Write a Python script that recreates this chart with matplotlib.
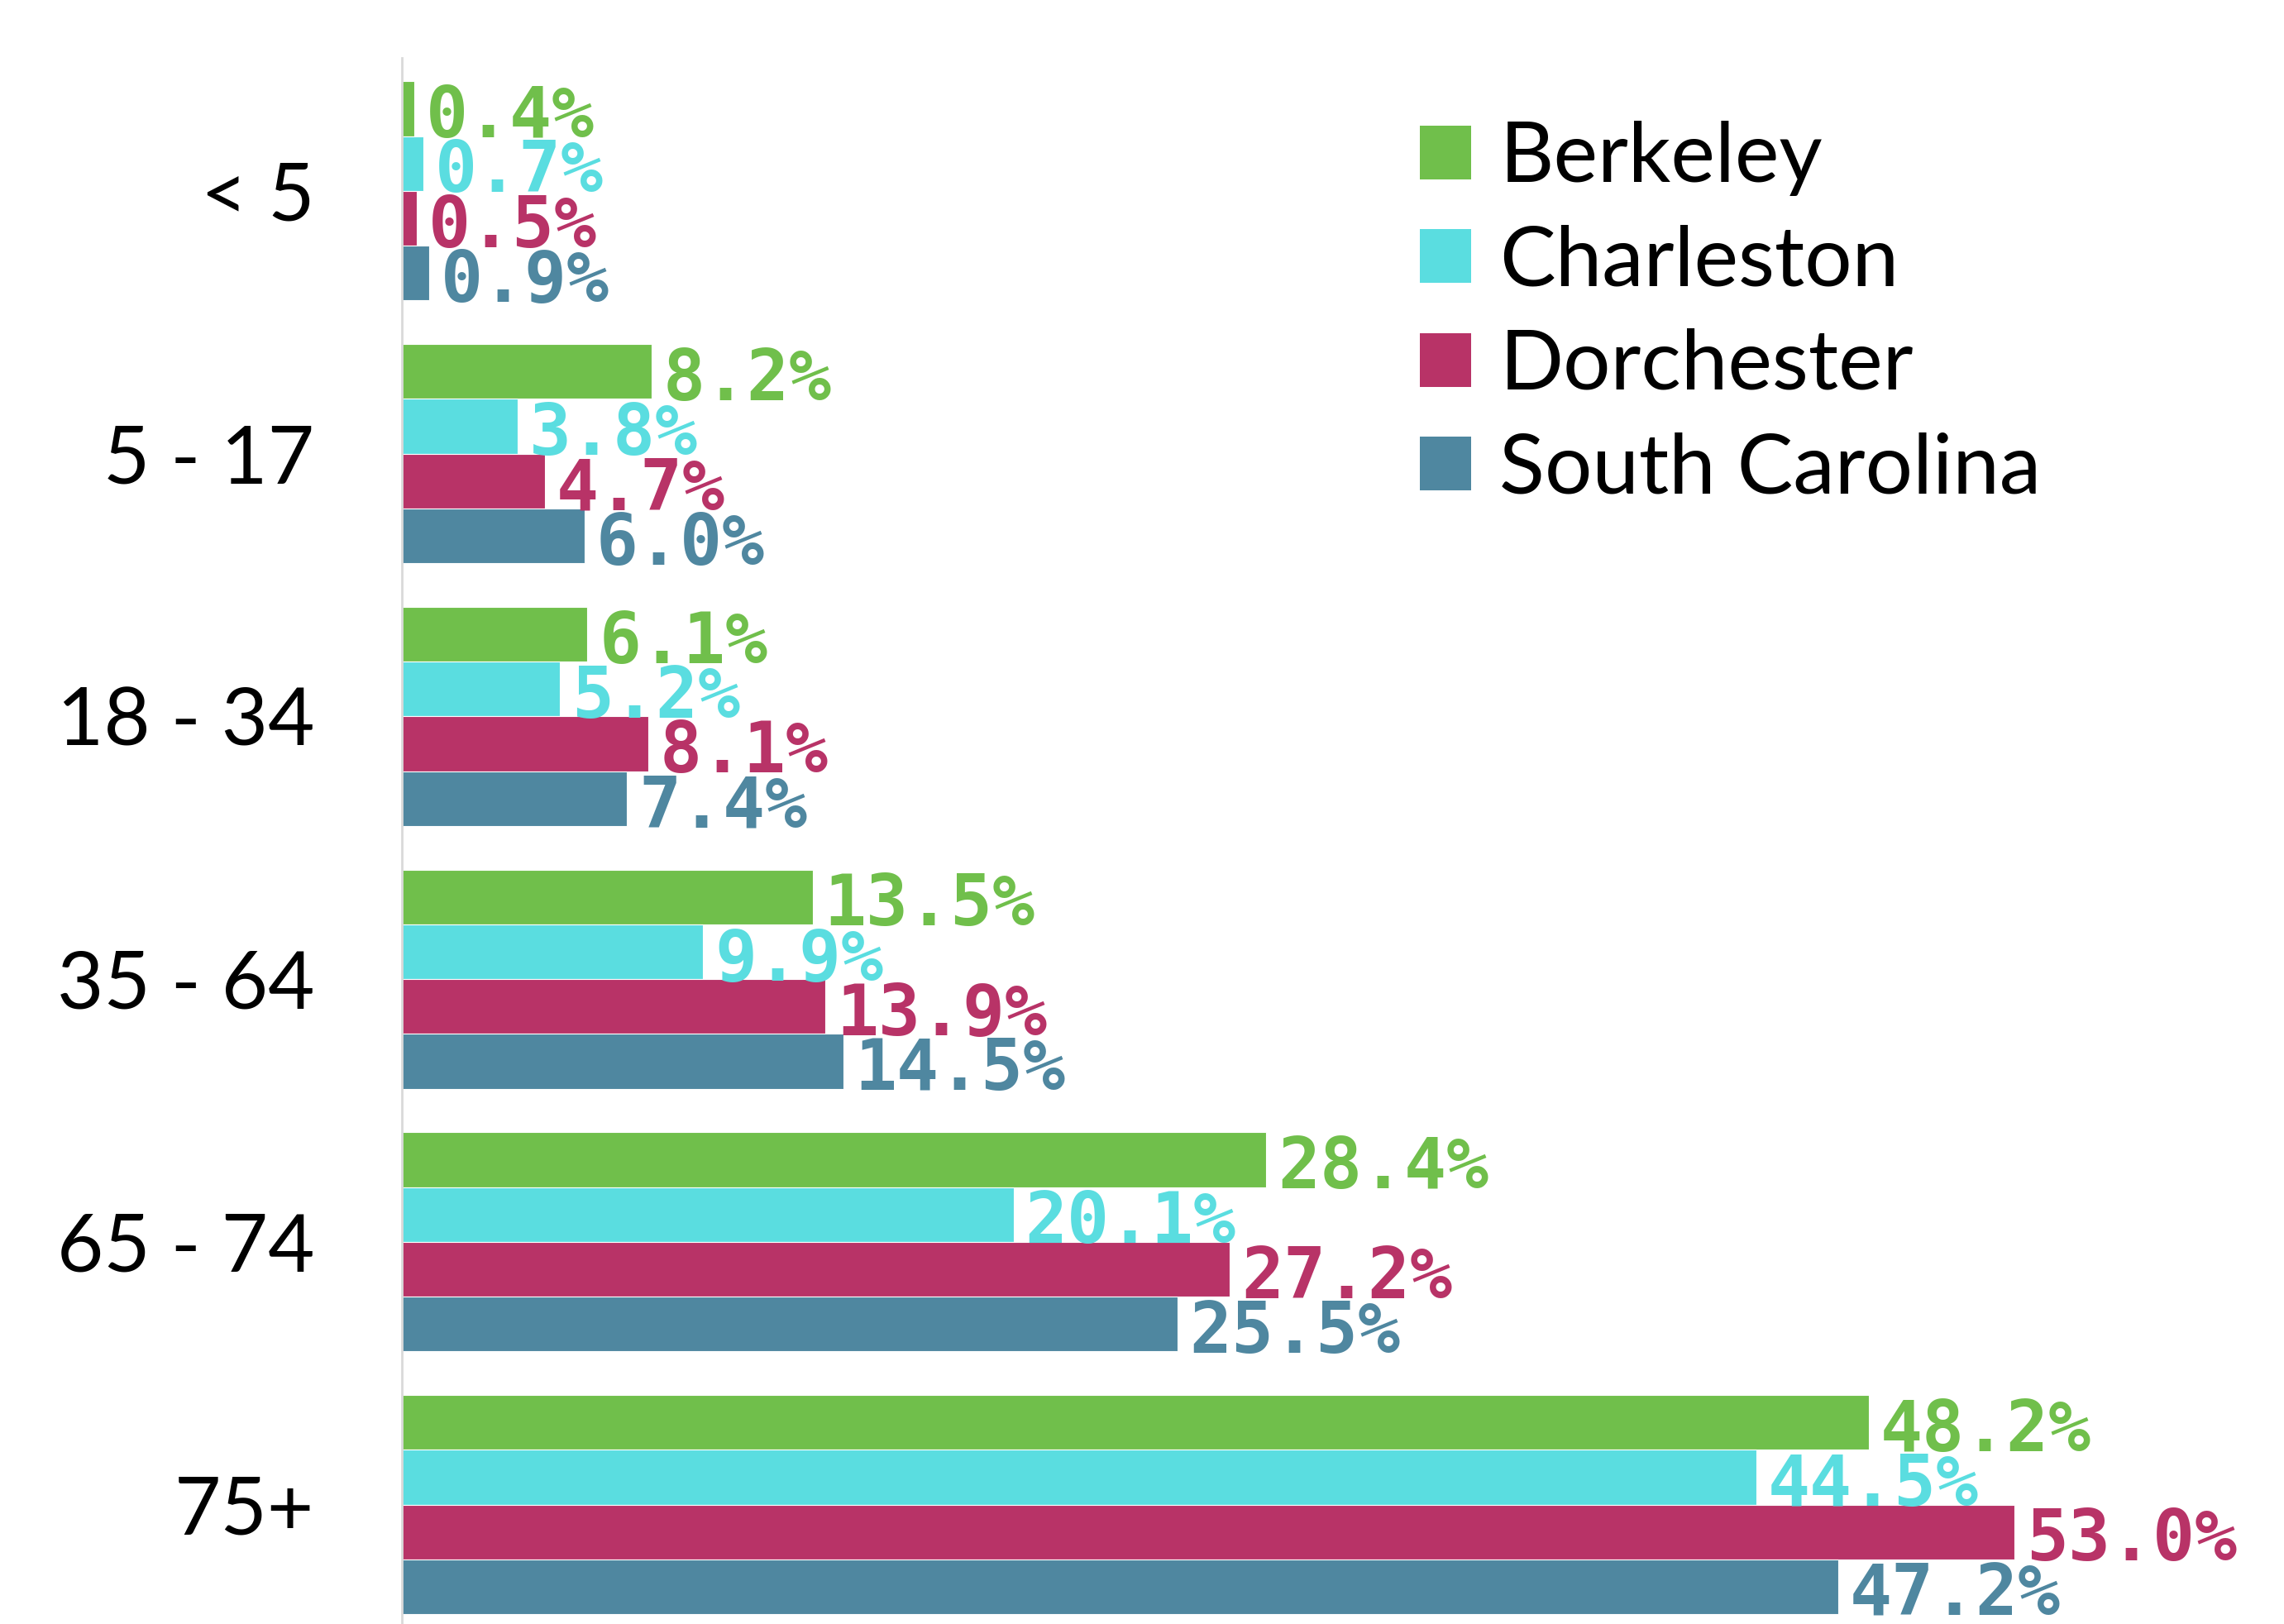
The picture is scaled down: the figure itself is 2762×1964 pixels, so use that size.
import matplotlib
matplotlib.use("Agg")
import matplotlib.pyplot as plt
from matplotlib.patches import Patch
import numpy as np

categories = ["< 5", "5 - 17", "18 - 34", "35 - 64", "65 - 74", "75+"]
series_names = ["Berkeley", "Charleston", "Dorchester", "South Carolina"]
berkeley = [0.4, 8.2, 6.1, 13.5, 28.4, 48.2]
charleston = [0.7, 3.8, 5.2, 9.9, 20.1, 44.5]
dorchester = [0.5, 4.7, 8.1, 13.9, 27.2, 53.0]
south_carolina = [0.9, 6.0, 7.4, 14.5, 25.5, 47.2]
colors = ["#70BF4B", "#5ADDE0", "#B83367", "#4F87A0"]

series = [berkeley, charleston, dorchester, south_carolina]

W, H = 2762, 1964
dpi = 200
fig = plt.figure(figsize=(W / dpi, H / dpi), dpi=dpi)
ax = fig.add_axes([486 / W, 0, 1 - 486 / W, 1 - 70 / H])

bar_h = 0.2084
y = np.arange(len(categories))
for j, (vals, name, col) in enumerate(zip(series, series_names, colors)):
    pos = y + (j - 1.5) * bar_h
    ax.barh(pos, vals, height=bar_h, color=col, edgecolor="white",
            linewidth=0.4, label=name)
    for p, v in zip(pos, vals):
        ax.annotate(f"{v:.1f}%", xy=(v, p), xytext=(5, -4),
                    textcoords="offset points", va="center", ha="left",
                    color=col, fontsize=30.5, fontweight="bold",
                    family="DejaVu Sans Mono")

ax.set_xlim(0, 61.85)
ax.set_ylim(5.454, -0.506)
ax.set_yticks(y)
ax.set_yticklabels(categories, fontsize=35, family="Lato")
ax.tick_params(axis="y", length=0, pad=38)
ax.set_xticks([])
for s in ["top", "right", "bottom"]:
    ax.spines[s].set_visible(False)
ax.spines["left"].set_color("#d9d9d9")
ax.spines["left"].set_linewidth(1.0)

handles = [Patch(facecolor=c, edgecolor="none") for c in colors]
fig.legend(handles, series_names, loc="upper left",
           bbox_to_anchor=(1717 / W, 1 - 146 / H), frameon=False,
           prop={"family": "Lato", "size": 36.5}, handlelength=0.61,
           handleheight=0.61, handletextpad=0.34, labelspacing=0.34,
           borderpad=0, borderaxespad=0)

fig.savefig("out.png", dpi=dpi)
